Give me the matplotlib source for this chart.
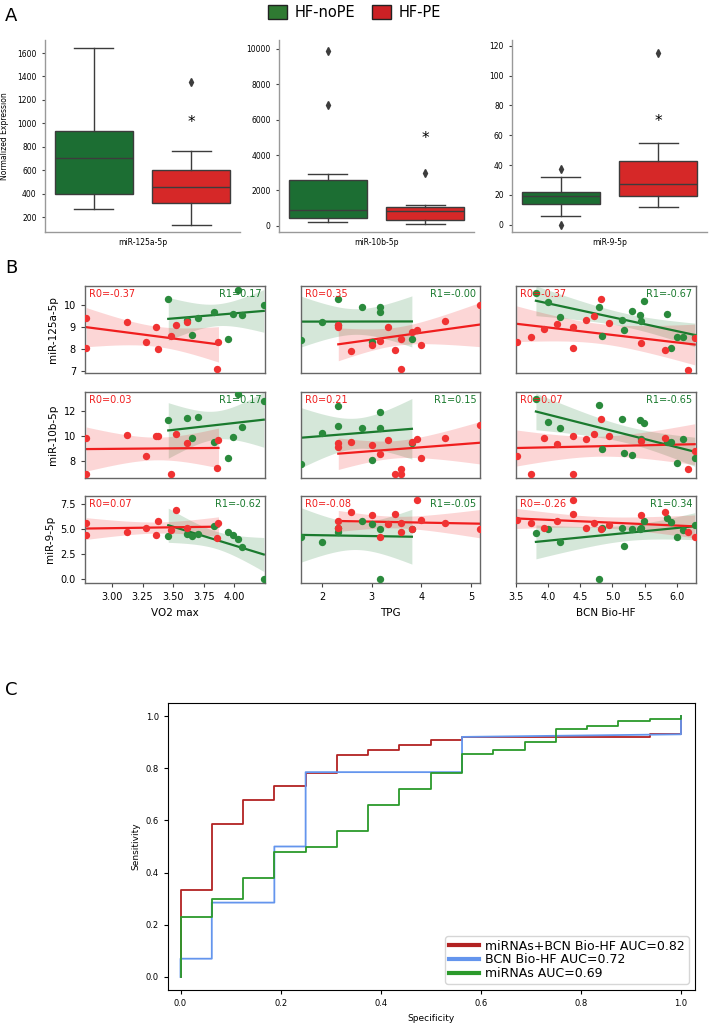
import numpy as np
import matplotlib
matplotlib.use("Agg")
import matplotlib.pyplot as plt
from matplotlib.patches import Patch

GREEN = "#1c6e33"
RED = "#d62828"
PT_GREEN = "#2a8a3c"
PT_RED = "#f03232"
LN_GREEN = "#1a7a2e"
LN_RED = "#f01e1e"

# ---------------- panel A data (box stats) ----------------
mirnas = ["miR-125a-5p", "miR-10b-5p", "miR-9-5p"]
# whislo, q1, med, q3, whishi
box_noPE = [[270, 395, 705, 930, 1640],
            [230, 450, 920, 2580, 2950],
            [6, 14, 19.5, 22, 32]]
box_PE = [[135, 320, 455, 605, 765],
          [120, 350, 830, 1060, 1200],
          [11.5, 19.5, 27.5, 43, 55]]
fliers_noPE = [[], [6800, 9900], [37, 0]]
fliers_PE = [[1355], [2980], [115]]
star_y = [1010, 4950, 69]
ylims_A = [(72, 1711), (-350, 10500), (-5, 124)]
yticks_A = [[200, 400, 600, 800, 1000, 1200, 1400, 1600],
            [0, 2000, 4000, 6000, 8000, 10000],
            [0, 20, 40, 60, 80, 100, 120]]

# ---------------- panel B data ----------------
clin_names = ["VO2 max", "TPG", "BCN Bio-HF"]
row_names = ["miR-125a-5p", "miR-10b-5p", "miR-9-5p"]

# x values per clinical variable (same patients in each row)
x_pe = [
    [2.79, 2.79, 3.12, 3.28, 3.36, 3.38, 3.48, 3.52, 3.61, 3.86, 3.87],
    [2.33, 2.33, 2.59, 3.01, 3.17, 3.33, 3.48, 3.59, 3.59, 3.81, 3.91, 4.0, 4.47, 5.17],
    [3.51, 3.73, 3.94, 4.13, 4.38, 4.38, 4.59, 4.71, 4.82, 4.94, 5.44, 5.81, 6.17, 6.28],
]
x_nope = [
    [3.46, 3.61, 3.65, 3.70, 3.83, 3.95, 3.99, 4.03, 4.06, 4.24],
    [1.59, 2.0, 2.33, 2.33, 2.81, 3.17, 3.17, 3.01, 3.81],
    [3.81, 3.99, 4.18, 4.79, 4.84, 5.15, 5.18, 5.31, 5.43, 5.45, 5.49, 5.85, 5.91, 6.01, 6.09, 6.28],
]
# y values [row][col]
y_pe = [
    [[9.39, 8.05, 9.24, 8.33, 9.01, 7.98, 8.6, 9.1, 9.21, 7.06, 8.31],
     [9.01, 9.1, 7.9, 8.17, 8.36, 8.98, 7.95, 8.43, 7.06, 8.78, 8.86, 8.17, 9.28, 10.0],
     [8.3, 8.55, 8.93, 9.15, 9.01, 8.02, 9.32, 9.5, 10.29, 9.16, 8.28, 7.95, 7.05, 8.48]],
    [[9.79, 6.94, 10.08, 8.38, 9.95, 9.95, 6.94, 10.14, 9.44, 7.39, 9.66],
     [9.39, 9.12, 9.47, 9.26, 8.51, 9.66, 6.94, 7.34, 6.94, 9.47, 9.73, 8.19, 9.82, 10.86],
     [8.35, 6.94, 9.82, 9.34, 10.0, 6.94, 9.74, 10.14, 11.34, 9.95, 9.55, 9.82, 7.36, 8.75]],
    [[5.63, 4.4, 4.73, 5.13, 4.4, 5.83, 4.9, 6.9, 5.07, 4.13, 5.63],
     [5.83, 5.07, 6.73, 6.4, 4.17, 5.47, 6.47, 5.57, 4.73, 5.0, 7.9, 5.9, 5.57, 5.0],
     [5.9, 5.57, 5.07, 5.8, 6.47, 7.9, 5.07, 5.57, 5.0, 5.4, 6.4, 6.73, 4.73, 4.23]],
]
y_nope = [
    [[10.27, 9.32, 8.63, 9.39, 9.7, 8.43, 9.57, 10.68, 9.54, 10.0],
     [8.4, 9.24, 10.27, 9.09, 9.92, 9.92, 9.67, 8.3, 8.43],
     [10.53, 10.15, 9.45, 9.89, 8.58, 9.32, 8.87, 9.73, 9.53, 9.28, 10.18, 9.6, 8.02, 8.54, 8.55, 8.52]],
    [[11.28, 11.44, 9.84, 11.52, 9.52, 8.19, 9.87, 13.34, 10.72, 12.78],
     [7.74, 10.19, 12.38, 10.78, 10.59, 11.92, 10.64, 8.06, 9.39],
     [12.94, 11.12, 10.59, 12.46, 8.94, 11.34, 8.59, 8.46, 11.26, 9.74, 11.04, 9.52, 9.45, 7.79, 9.74, 8.19]],
    [[4.3, 4.47, 4.3, 4.47, 5.33, 4.73, 4.45, 4.0, 3.17, 0.0],
     [4.23, 3.67, 5.13, 4.67, 5.83, 5.0, 0.0, 5.47, 5.0],
     [4.63, 4.97, 3.67, 0.0, 5.13, 5.07, 3.3, 5.0, 5.0, 5.13, 5.83, 6.07, 5.73, 4.23, 4.9, 5.4]],
]
r0_text = [["-0.37", "0.35", "-0.37"], ["0.03", "0.21", "0.07"], ["0.07", "-0.08", "-0.26"]]
r1_text = [["0.17", "-0.00", "-0.67"], ["0.17", "0.15", "-0.65"], ["-0.62", "-0.05", "0.34"]]
xlims_B = [(2.78, 4.25), (1.58, 5.18), (3.5, 6.3)]
ylims_B = [(6.9, 10.87), (6.6, 13.5), (-0.37, 8.3)]
xticks_B = [[3.0, 3.25, 3.5, 3.75, 4.0], [2, 3, 4, 5], [3.5, 4.0, 4.5, 5.0, 5.5, 6.0]]
yticks_B = [[7, 8, 9, 10], [8, 10, 12], [0.0, 2.5, 5.0, 7.5]]

# ---------------- panel C data ----------------
fpr_comb = [0, 0, 0.0625, 0.0625, 0.125, 0.125, 0.1875, 0.1875, 0.25, 0.25, 0.3125, 0.3125,
            0.375, 0.375, 0.4375, 0.4375, 0.5, 0.5, 0.5625, 0.5625, 0.9375, 0.9375, 1.0, 1.0]
tpr_comb = [0, 0.335, 0.335, 0.585, 0.585, 0.68, 0.68, 0.73, 0.73, 0.78, 0.78, 0.85,
            0.85, 0.87, 0.87, 0.89, 0.89, 0.91, 0.91, 0.92, 0.92, 0.93, 0.93, 1.0]
fpr_bcn = [0, 0, 0.0625, 0.0625, 0.1875, 0.1875, 0.25, 0.25, 0.5625, 0.5625, 1.0, 1.0]
tpr_bcn = [0, 0.07, 0.07, 0.285, 0.285, 0.5, 0.5, 0.785, 0.785, 0.92, 0.93, 1.0]
fpr_mir = [0, 0, 0.0625, 0.0625, 0.125, 0.125, 0.1875, 0.1875, 0.25, 0.25, 0.3125, 0.3125,
           0.375, 0.375, 0.4375, 0.4375, 0.5, 0.5, 0.5625, 0.5625, 0.625, 0.625, 0.6875, 0.6875,
           0.75, 0.75, 0.8125, 0.8125, 0.875, 0.875, 0.9375, 0.9375, 1.0, 1.0]
tpr_mir = [0, 0.23, 0.23, 0.3, 0.3, 0.38, 0.38, 0.48, 0.48, 0.5, 0.5, 0.56,
           0.56, 0.66, 0.66, 0.72, 0.72, 0.78, 0.78, 0.855, 0.855, 0.87, 0.87, 0.9,
           0.9, 0.95, 0.95, 0.96, 0.96, 0.98, 0.98, 0.99, 0.99, 1.0]
roc_labels = ["miRNAs+BCN Bio-HF AUC=0.82", "BCN Bio-HF AUC=0.72", "miRNAs AUC=0.69"]

W, H = 709, 1024
fig = plt.figure(figsize=(W / 100, H / 100), dpi=100)


def add_ax(left, top, right, bottom):
    return fig.add_axes([left / W, 1 - bottom / H, (right - left) / W, (bottom - top) / H])


# ---------------- A ----------------
fig.text(5 / W, 1 - 16 / H, "A", fontsize=13, va="center")
a_lefts = [45, 279, 512]
for i in range(3):
    ax = add_ax(a_lefts[i], 40, a_lefts[i] + 195, 232)
    stats = []
    for b, fl in [(box_noPE[i], fliers_noPE[i]), (box_PE[i], fliers_PE[i])]:
        stats.append(dict(whislo=b[0], q1=b[1], med=b[2], q3=b[3], whishi=b[4], fliers=fl))
    bp = ax.bxp(stats, positions=[-0.25, 0.25], widths=0.4, patch_artist=True,
                boxprops=dict(edgecolor="#3c3c3c", linewidth=1.0),
                medianprops=dict(color="#3c3c3c", linewidth=1.0),
                whiskerprops=dict(color="#3c3c3c", linewidth=1.0),
                capprops=dict(color="#3c3c3c", linewidth=1.0),
                flierprops=dict(marker="d", markerfacecolor="#3c3c3c", markeredgecolor="#3c3c3c",
                                markersize=4))
    bp["boxes"][0].set_facecolor(GREEN)
    bp["boxes"][1].set_facecolor(RED)
    for c in bp["caps"]:
        x = c.get_xdata()
        m = x.mean()
        c.set_xdata([m - 0.1, m + 0.1])
    ax.text(0.25, star_y[i], "*", ha="center", va="center", fontsize=11)
    ax.set_xlim(-0.5, 0.5)
    ax.set_ylim(*ylims_A[i])
    ax.set_yticks(yticks_A[i])
    ax.set_xticks([0])
    ax.set_xticklabels([mirnas[i]])
    ax.tick_params(axis="x", length=0, labelsize=5.5, pad=4)
    ax.tick_params(axis="y", labelsize=5.5, length=2.5, width=0.8, color="#444444")
    for s in ["top", "right"]:
        ax.spines[s].set_visible(False)
    for s in ["left", "bottom"]:
        ax.spines[s].set_color("#999999")
        ax.spines[s].set_linewidth(1.0)
    if i == 0:
        ax.set_ylabel("Normalized Expression", fontsize=5.5, labelpad=6)

fig.legend(handles=[Patch(facecolor="#2f7a32", edgecolor="#222222", label="HF-noPE"),
                    Patch(facecolor="#cc2125", edgecolor="#222222", label="HF-PE")],
           loc="upper center", bbox_to_anchor=(0.5, 1.008), ncol=2, frameon=False,
           fontsize=10.5, handlelength=1.3, handleheight=1.1, columnspacing=1.2, handletextpad=0.5)

# ---------------- B ----------------
fig.text(5 / W, 1 - 268 / H, "B", fontsize=13, va="center")
b_cols = [(85, 265), (301, 480), (516, 696)]
b_rows = [(286, 373), (392, 478), (496, 583)]


def regline(ax, x, y, color):
    x = np.asarray(x, float)
    y = np.asarray(y, float)
    n = len(x)
    b, a = np.polyfit(x, y, 1)
    xg = np.linspace(x.min(), x.max(), 100)
    yg = a + b * xg
    resid = y - (a + b * x)
    s = np.sqrt(np.sum(resid ** 2) / (n - 2))
    sxx = np.sum((x - x.mean()) ** 2)
    se = s * np.sqrt(1 / n + (xg - x.mean()) ** 2 / sxx)
    ax.fill_between(xg, yg - 2.2 * se, yg + 2.2 * se, color=color, alpha=0.18, linewidth=0)
    ax.plot(xg, yg, color=color, linewidth=1.6)


for r in range(3):
    for c in range(3):
        l, rt = b_cols[c]
        t, bt = b_rows[r]
        ax = add_ax(l, t, rt, bt)
        ax.scatter(x_nope[c], y_nope[r][c], s=28, color=PT_GREEN, linewidths=0, zorder=3)
        ax.scatter(x_pe[c], y_pe[r][c], s=28, color=PT_RED, linewidths=0, zorder=3)
        regline(ax, x_nope[c], y_nope[r][c], LN_GREEN)
        regline(ax, x_pe[c], y_pe[r][c], LN_RED)
        ax.set_xlim(*xlims_B[c])
        ax.set_ylim(*ylims_B[r])
        ax.set_xticks(xticks_B[c])
        ax.set_yticks(yticks_B[r])
        for s in ax.spines.values():
            s.set_color("#666666")
            s.set_linewidth(1.0)
        ax.text(0.02, 0.97, "R0=" + r0_text[r][c], transform=ax.transAxes, color=LN_RED,
                fontsize=7, ha="left", va="top")
        ax.text(0.98, 0.97, "R1=" + r1_text[r][c], transform=ax.transAxes, color=LN_GREEN,
                fontsize=7, ha="right", va="top")
        ax.tick_params(labelsize=7, length=3, width=0.8, color="#444444")
        if c == 0:
            ax.set_ylabel(row_names[r], fontsize=7.5)
        else:
            ax.tick_params(axis="y", labelleft=False, length=0)
        if r == 2:
            if c == 0:
                ax.set_xticklabels(["3.00", "3.25", "3.50", "3.75", "4.00"])
            ax.set_xlabel(clin_names[c], fontsize=7.5)
        else:
            ax.tick_params(axis="x", labelbottom=False, length=0)

# ---------------- C ----------------
fig.text(5 / W, 1 - 690 / H, "C", fontsize=13, va="center")
ax = add_ax(168, 703, 695, 990)
ax.plot(fpr_comb, tpr_comb, color="#b22222", linewidth=1.3, label=roc_labels[0])
ax.plot(fpr_bcn, tpr_bcn, color="#6495ed", linewidth=1.3, label=roc_labels[1])
ax.plot(fpr_mir, tpr_mir, color="#2b9a2b", linewidth=1.3, label=roc_labels[2])
ax.set_xlim(-0.025, 1.028)
ax.set_ylim(-0.05, 1.05)
ax.set_xticks([0, 0.2, 0.4, 0.6, 0.8, 1.0])
ax.set_yticks([0, 0.2, 0.4, 0.6, 0.8, 1.0])
ax.tick_params(labelsize=6, length=3, width=0.8)
ax.set_xlabel("Specificity", fontsize=6.5)
ax.set_ylabel("Sensitivity", fontsize=6.5)
leg = ax.legend(loc="lower right", fontsize=9, handlelength=2.4, borderpad=0.3,
                labelspacing=0.05, handletextpad=0.5)
for h in leg.get_lines():
    h.set_linewidth(3)

fig.savefig("out.png", dpi=100)
